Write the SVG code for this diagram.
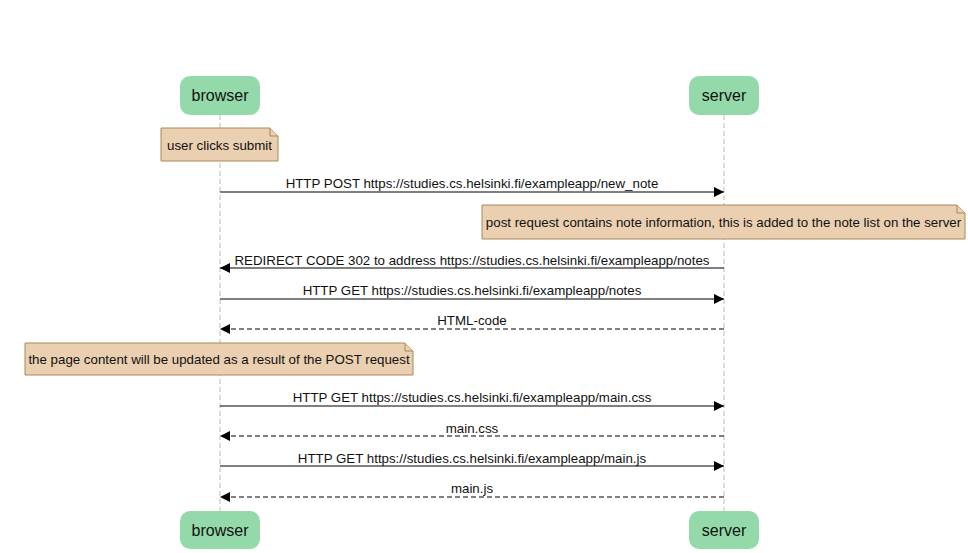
<svg xmlns="http://www.w3.org/2000/svg" width="968" height="553" viewBox="0 0 968 553">
<defs>
<style>
.actor{fill:#93d9a9;stroke:none}
.albl{font-family:"Liberation Sans",Arial,sans-serif;font-size:16px;fill:#111;text-anchor:middle}
.life{stroke:#bbb;stroke-width:1;stroke-dasharray:5,3}
.note{fill:#eacfb0;stroke:#a8895a;stroke-width:1}
.txt{font-family:"Liberation Sans",Arial,sans-serif;font-size:13.3px;fill:#111;text-anchor:middle}
.msg{stroke:#000;stroke-width:1.2;fill:none}
.dash{stroke-dasharray:5,3}
</style>
<marker id="ah" viewBox="0 0 10 10" refX="10" refY="5" markerWidth="10" markerHeight="10" orient="auto" markerUnits="userSpaceOnUse">
<path d="M0,0 L10,5 L0,10 Z" fill="#000"/>
</marker>
</defs>
<rect width="968" height="553" fill="#fff"/>
<g id="lifelines">
<line class="life" x1="220" y1="115" x2="220" y2="511"/>
<line class="life" x1="724" y1="115" x2="724" y2="511"/>
</g>
<g id="browser-top"><rect class="actor" x="180" y="76" width="80" height="39" rx="10"/><text class="albl" x="220" y="101">browser</text></g>
<g id="server-top"><rect class="actor" x="689" y="76" width="70" height="39" rx="10"/><text class="albl" x="724" y="101">server</text></g>
<g id="browser-bottom"><rect class="actor" x="180" y="511" width="80" height="38" rx="10"/><text class="albl" x="220" y="536">browser</text></g>
<g id="server-bottom"><rect class="actor" x="689" y="511" width="70" height="38" rx="10"/><text class="albl" x="724" y="536">server</text></g>
<g id="note1"><path class="note" d="M161,128 H270 L278,136 V161 H161 Z"/><path class="note" d="M270,128 V136 H278"/><text class="txt" x="219.5" y="149.5">user clicks submit</text></g>
<g id="note2"><path class="note" d="M482,205 H957 L965,213 V239 H482 Z"/><path class="note" d="M957,205 V213 H965"/><text class="txt" x="723.5" y="227">post request contains note information, this is added to the note list on the server</text></g>
<g id="note3"><path class="note" d="M25,343 H405 L413,351 V375 H25 Z"/><path class="note" d="M405,343 V351 H413"/><text class="txt" x="219" y="364">the page content will be updated as a result of the POST request</text></g>
<g id="connectors">
<line class="msg" x1="220" y1="192" x2="724" y2="192" marker-end="url(#ah)"/>
<text class="txt" x="472" y="188">HTTP POST https://studies.cs.helsinki.fi/exampleapp/new_note</text>
<line class="msg" x1="724" y1="268" x2="220" y2="268" marker-end="url(#ah)"/>
<text class="txt" x="472" y="265">REDIRECT CODE 302 to address https://studies.cs.helsinki.fi/exampleapp/notes</text>
<line class="msg" x1="220" y1="299" x2="724" y2="299" marker-end="url(#ah)"/>
<text class="txt" x="472" y="295">HTTP GET https://studies.cs.helsinki.fi/exampleapp/notes</text>
<line class="msg dash" x1="724" y1="329" x2="220" y2="329" marker-end="url(#ah)"/>
<text class="txt" x="472" y="325">HTML-code</text>
<line class="msg" x1="220" y1="406" x2="724" y2="406" marker-end="url(#ah)"/>
<text class="txt" x="472" y="402">HTTP GET https://studies.cs.helsinki.fi/exampleapp/main.css</text>
<line class="msg dash" x1="724" y1="436" x2="220" y2="436" marker-end="url(#ah)"/>
<text class="txt" x="472" y="433">main.css</text>
<line class="msg" x1="220" y1="466" x2="724" y2="466" marker-end="url(#ah)"/>
<text class="txt" x="472" y="463">HTTP GET https://studies.cs.helsinki.fi/exampleapp/main.js</text>
<line class="msg dash" x1="724" y1="497" x2="220" y2="497" marker-end="url(#ah)"/>
<text class="txt" x="472" y="493">main.js</text>
</g>
</svg>
